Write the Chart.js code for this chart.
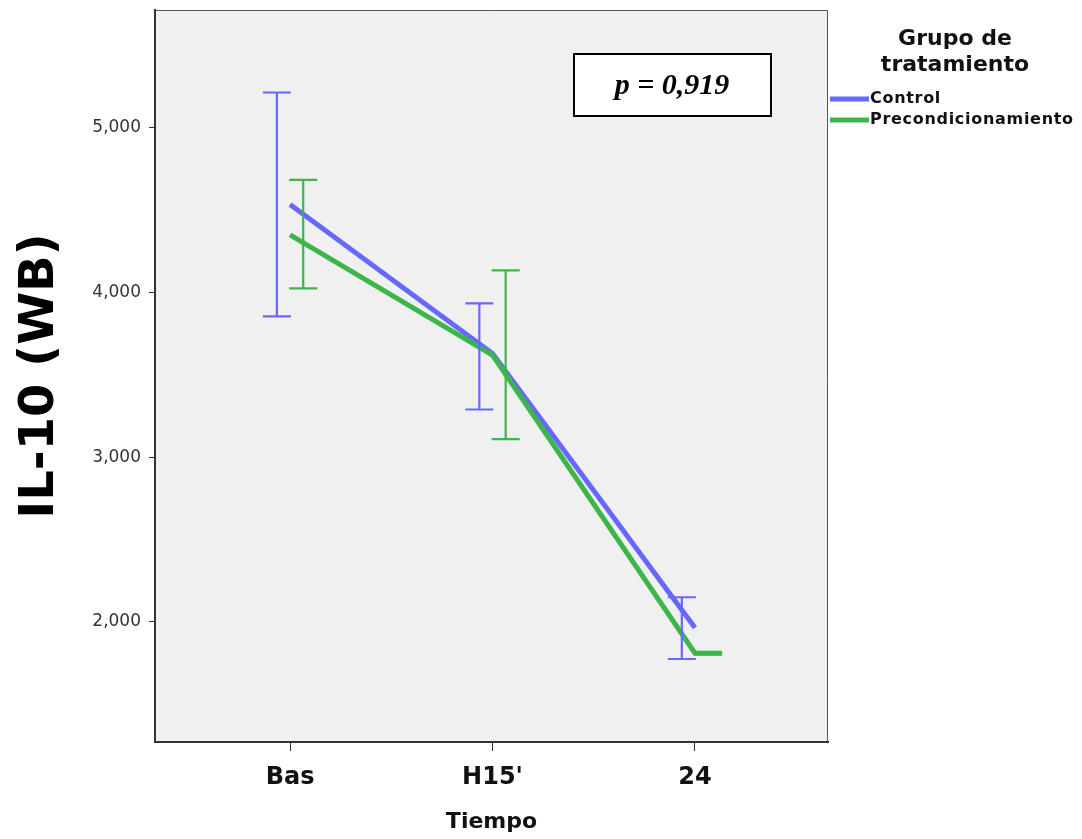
<!DOCTYPE html>
<html lang="es">
<head>
    <meta charset="UTF-8">
    <title>IL-10 (WB) - Grupo de tratamiento</title>
    <script src="https://cdn.jsdelivr.net/npm/chart.js"></script>
    <style>
        body { margin: 0; background: #ffffff; }
        .chart-container { width: 1082px; height: 839px; }
    </style>
</head>
<body>
    <div class="chart-container">
        <canvas id="graficaIL10" width="1082" height="839"></canvas>
    </div>

<script>
// datos (medias e intervalos de confianza)
const tiempos = ['Bas', "H15'", '24'];
const controlMedia = [4535, 3630, 1965];
const controlInf = [3855, 3290, 1775];
const controlSup = [5215, 3935, 2150];
const precondMedia = [4350, 3620, 1810];
const precondInf = [4025, 3110, 1803];
const precondSup = [4685, 4135, 1817];
const yTicks = [2000, 3000, 4000, 5000];

const azul = '#6868ff';
const verde = '#3cb54b';

// desplazamiento de las barras de error respecto a la categoria
const desplazamiento = 0.065;

const puntos = (valores) => valores.map((v, i) => ({ x: i, y: v }));

// fondo gris y marco del area de la grafica
const fondoPlugin = {
    id: 'fondo',
    beforeDraw(chart) {
        const { ctx, chartArea: a } = chart;
        ctx.save();
        ctx.fillStyle = '#f0f0f0';
        ctx.fillRect(a.left, a.top, a.right - a.left, a.bottom - a.top);
        ctx.strokeStyle = '#555';
        ctx.lineWidth = 1;
        ctx.beginPath();
        ctx.moveTo(a.left, a.top + 0.5);
        ctx.lineTo(a.right - 0.5, a.top + 0.5);
        ctx.lineTo(a.right - 0.5, a.bottom);
        ctx.stroke();
        ctx.restore();
    }
};

// barras de error (IC) dibujadas con las escalas de la grafica
const barrasErrorPlugin = {
    id: 'barrasError',
    afterDatasetsDraw(chart) {
        const { ctx, scales: { x, y } } = chart;
        const grupos = [
            { inf: controlInf, sup: controlSup, color: azul, dx: -desplazamiento },
            { inf: precondInf, sup: precondSup, color: verde, dx: desplazamiento }
        ];
        ctx.save();
        ctx.lineWidth = 2.2;
        grupos.forEach(g => {
            ctx.strokeStyle = g.color;
            g.inf.forEach((v, i) => {
                const px = x.getPixelForValue(i + g.dx);
                const y1 = y.getPixelForValue(g.sup[i]);
                const y2 = y.getPixelForValue(v);
                ctx.beginPath();
                ctx.moveTo(px, y1);
                ctx.lineTo(px, y2);
                ctx.moveTo(px - 14, y1);
                ctx.lineTo(px + 14, y1);
                ctx.moveTo(px - 14, y2);
                ctx.lineTo(px + 14, y2);
                ctx.stroke();
            });
        });
        ctx.restore();
    }
};

// leyenda y caja con el valor p
const leyendaPlugin = {
    id: 'leyenda',
    afterDraw(chart) {
        const { ctx, chartArea: a } = chart;
        ctx.save();
        // caja p
        ctx.fillStyle = '#ffffff';
        ctx.fillRect(a.right - 254, a.top + 44, 197, 62);
        ctx.strokeStyle = '#000';
        ctx.lineWidth = 2;
        ctx.strokeRect(a.right - 254, a.top + 44, 197, 62);
        ctx.fillStyle = '#000';
        ctx.font = 'italic bold 30px "Liberation Serif"';
        ctx.textAlign = 'center';
        ctx.textBaseline = 'middle';
        ctx.fillText('p = 0,919', a.right - 156, a.top + 76);

        // titulo de la leyenda
        ctx.font = 'bold 22px "DejaVu Sans"';
        ctx.fillStyle = '#111';
        ctx.fillText('Grupo de', a.right + 127, a.top + 29);
        ctx.fillText('tratamiento', a.right + 127, a.top + 55);

        // elementos
        const items = [['Control', azul], ['Precondicionamiento', verde]];
        ctx.textAlign = 'left';
        ctx.font = 'bold 16px "DejaVu Sans"';
        ctx.letterSpacing = '0.7px';
        items.forEach((it, i) => {
            const yy = a.top + 89 + i * 21;
            ctx.strokeStyle = it[1];
            ctx.lineWidth = 5;
            ctx.beginPath();
            ctx.moveTo(a.right + 2, yy);
            ctx.lineTo(a.right + 41, yy);
            ctx.stroke();
            ctx.fillStyle = '#111';
            ctx.fillText(it[0], a.right + 42, yy);
        });
        ctx.restore();
    }
};

const ctx = document.getElementById('graficaIL10').getContext('2d');
const grafica = new Chart(ctx, {
    type: 'line',
    data: {
        datasets: [
            {
                label: 'Control',
                data: puntos(controlMedia),
                borderColor: azul,
                borderWidth: 5,
                pointRadius: 0,
                fill: false,
                order: 2
            },
            {
                label: 'Precondicionamiento',
                data: puntos(precondMedia).concat([{ x: 2 + 2 * desplazamiento, y: precondMedia[2] }]),
                borderColor: verde,
                borderWidth: 5,
                pointRadius: 0,
                fill: false,
                order: 1
            }
        ]
    },
    options: {
        responsive: false,
        animation: false,
        layout: { padding: { top: 10, right: 254, left: 0, bottom: 0 } },
        plugins: {
            legend: { display: false },
            tooltip: { enabled: false }
        },
        scales: {
            x: {
                type: 'linear',
                min: -0.667,
                max: 2.657,
                afterFit: (s) => { s.height = 97; s.paddingLeft = 0; s.paddingRight = 0; },
                afterBuildTicks: (s) => { s.ticks = tiempos.map((t, i) => ({ value: i })); },
                ticks: {
                    callback: (v) => tiempos[v],
                    font: { family: 'DejaVu Sans', size: 24, weight: 'bold' },
                    color: '#111',
                    padding: 12,
                    maxRotation: 0
                },
                grid: { drawOnChartArea: false, tickLength: 9, color: '#333', lineWidth: 1 },
                border: { color: '#333', width: 2 },
                title: {
                    display: true,
                    text: 'Tiempo',
                    font: { family: 'DejaVu Sans', size: 22, weight: 'bold' },
                    color: '#111',
                    padding: { top: 0, bottom: 4 }
                }
            },
            y: {
                min: 1271,
                max: 5716,
                afterFit: (s) => { s.width = 155; s.paddingTop = 0; s.paddingBottom = 0; },
                afterBuildTicks: (s) => { s.ticks = yTicks.map(v => ({ value: v })); },
                ticks: {
                    callback: (v) => v.toLocaleString('en-US'),
                    font: { family: 'DejaVu Sans', size: 17 },
                    color: '#333',
                    padding: 8
                },
                grid: { drawOnChartArea: false, tickLength: 6, color: '#333', lineWidth: 1 },
                border: { color: '#333', width: 2 },
                title: {
                    display: true,
                    text: 'IL-10 (WB)',
                    font: { family: 'DejaVu Sans', size: 48, weight: 'bold' },
                    color: '#000',
                    padding: { top: 12, bottom: 0 }
                }
            }
        }
    },
    plugins: [fondoPlugin, barrasErrorPlugin, leyendaPlugin]
});
</script>
</body>
</html>
